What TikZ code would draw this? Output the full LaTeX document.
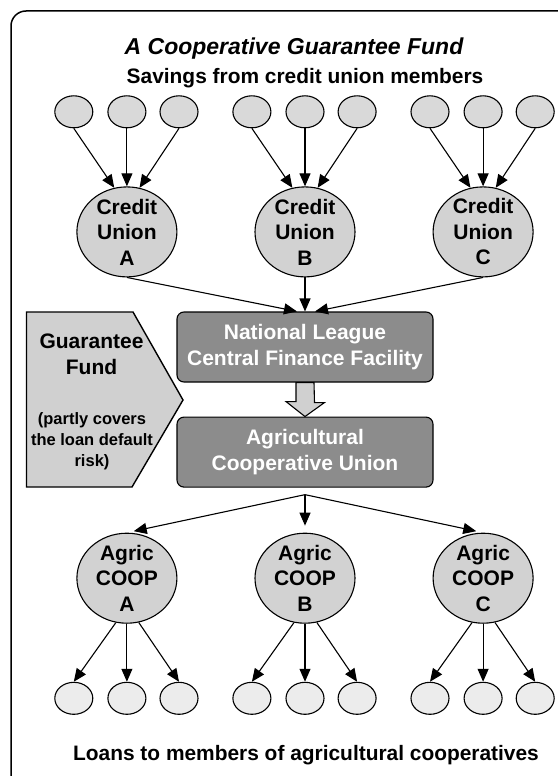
\documentclass[tikz,border=0pt]{standalone}
\usepackage{fontspec}
\setmainfont{Liberation Sans}
\usetikzlibrary{calc}
\usetikzlibrary{shapes.geometric}
\usetikzlibrary{positioning}
\usetikzlibrary{arrows.meta}

\definecolor{unionfill}{HTML}{D2D2D2}
\definecolor{topfill}{HTML}{D9D9D9}
\definecolor{botfill}{HTML}{ECECEC}
\definecolor{boxfill}{HTML}{8C8C8C}
\definecolor{fundfill}{HTML}{D0D0D0}

\newcommand{\boxfont}{\fontsize{21}{25.5}\selectfont\bfseries}
\newcommand{\notefont}{\fontsize{16.5}{21}\selectfont\bfseries}
\newcommand{\headfont}{\fontsize{20.9}{25}\selectfont\bfseries}
\newcommand{\titlefont}{\fontsize{23}{27}\selectfont\bfseries\itshape}

\begin{document}
\begin{tikzpicture}[x=1pt, y=1pt]

\tikzset{
    myarrow/.style={-{Triangle[length=13pt, width=11pt]}, line width=1.1pt},
    member/.style={draw, ellipse, line width=1.1pt, inner sep=0pt,
        minimum width=38pt, minimum height=32pt},
    union/.style={draw, ellipse, line width=1.1pt, fill=unionfill, inner sep=0pt,
        minimum width=100pt, minimum height=90pt,
        label={[align=center, font=\boxfont]center:#1}},
    darkbox/.style={draw, fill=boxfill, rounded corners=7pt, line width=1.1pt,
        minimum width=256pt, minimum height=70pt, text=white, align=center, font=\boxfont},
    hollowarrow/.style={draw, fill=fundfill, line width=1.1pt},
    fundshape/.style={draw, fill=fundfill, line width=1.4pt}
}

\pgfmathsetmacro{\G}{77}  % gap between the big circles
\pgfmathsetmacro{\D}{58}  % gap big circle - small circles

\useasboundingbox (0,0) rectangle (557,-776);

% Frame
\draw[line width=1.5pt, rounded corners=15pt] (11,-11) rectangle (585,-790);

% Headings
\node[anchor=base, font=\titlefont] (title) at (294,-55) {A Cooperative Guarantee Fund};
\node[anchor=base, font=\headfont] (savings) at (305,-83) {Savings from credit union members};
\node[anchor=base, font=\headfont] (loans) at (306,-760) {Loans to members of agricultural cooperatives};

%%% Middle Blocks %%%

% Block National League
\node[darkbox] (nl) at (305,-347) {National League\\Central Finance Facility};

% Block Agricultural Cooperative Union
\node[darkbox, below=34pt of nl] (ac) {Agricultural\\Cooperative Union};

% Hollow arrow between the blocks
\draw[hollowarrow] ([xshift=-9pt]nl.south) -- ++(0,-19) -- ++(-10,0) -- (ac.north)
    -- ++(19.5,14) -- ++(-10,0) -- ([xshift=9pt]nl.south) -- cycle;

% Guarantee Fund
\draw[fundshape] (26.5,-312) -- (133,-312) -- (183,-400) -- (132,-487) -- (26.5,-487) -- cycle;
\node[align=center, font=\boxfont] (gf) at (91.5,-354.5) {Guarantee\\Fund};
\node[align=center, font=\notefont] (gfnote) at (92,-441) {(partly covers\\the loan default\\risk)};

%%% Top Branch %%%

% Credit unions
\node[union={Credit\\Union\\B}, above=34pt of nl] (cuB) {};
\node[union={Credit\\Union\\A}, left=\G pt of cuB] (cuA) {};
\node[union={Credit\\Union\\C}, right=\G pt of cuB] (cuC) {};

\draw[myarrow] (cuA.south) -- ([xshift=-8pt]nl.north);
\draw[myarrow] (cuB.south) -- (nl.north);
\draw[myarrow] (cuC.south) -- ([xshift=10pt]nl.north);

% Savings members
\foreach \g in {A,B,C}{
  \node[member, fill=topfill, above=\D pt of cu\g] (s\g2) {};
  \node[member, fill=topfill, left=14pt of s\g2] (s\g1) {};
  \node[member, fill=topfill, right=13pt of s\g2] (s\g3) {};
  \draw[myarrow] (s\g1.south) -- (cu\g.106);
  \draw[myarrow] (s\g2.south) -- (cu\g.north);
  \draw[myarrow] (s\g3.south) -- (cu\g.74);
}

%%% Bottom Branch %%%

% Agricultural cooperatives
\node[union={Agric\\COOP\\B}, below=45pt of ac] (agB) {};
\node[union={Agric\\COOP\\A}, left=\G pt of agB] (agA) {};
\node[union={Agric\\COOP\\C}, right=\G pt of agB] (agC) {};

\coordinate[below=7pt of ac.south] (fork);
\foreach \g in {A,B,C}
  \draw[myarrow, shorten >=7pt] (fork) -- (ag\g.north);

% Borrowing members
\foreach \g in {A,B,C}{
  \node[member, fill=botfill, below=\D pt of ag\g] (b\g2) {};
  \node[member, fill=botfill, left=14pt of b\g2] (b\g1) {};
  \node[member, fill=botfill, right=13pt of b\g2] (b\g3) {};
  \draw[myarrow] (ag\g.256) -- (b\g1.north);
  \draw[myarrow] (ag\g.south) -- (b\g2.north);
  \draw[myarrow] (ag\g.285) -- (b\g3.north);
}

\end{tikzpicture}
\end{document}
